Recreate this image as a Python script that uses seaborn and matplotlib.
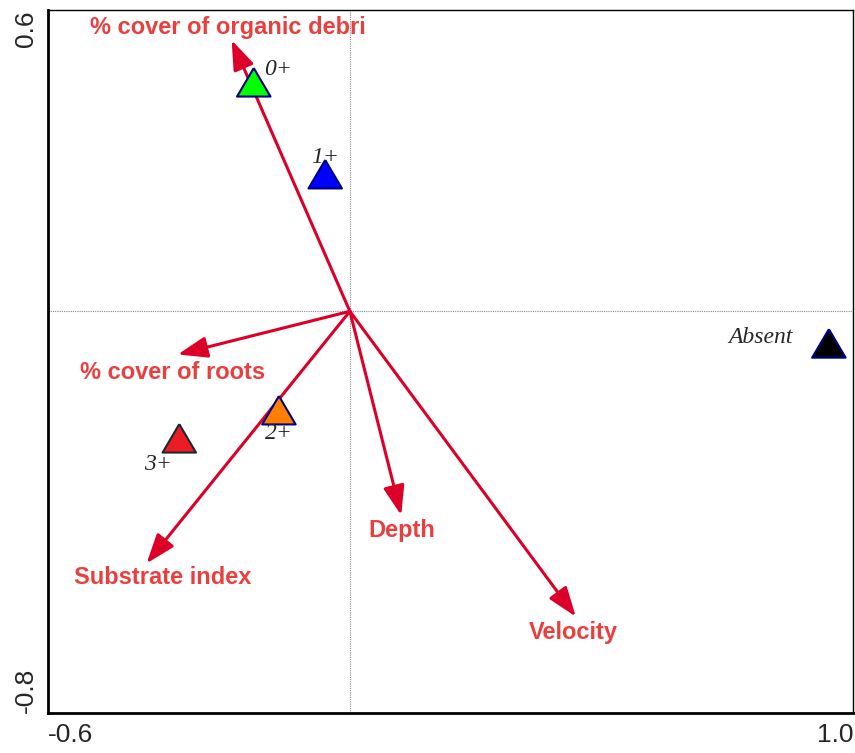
import pandas as pd
import numpy as np
import matplotlib
matplotlib.use("Agg")
import matplotlib.pyplot as plt
import seaborn as sns

# environmental variable arrows (end points)
env_names = ['% cover of organic debri', '% cover of roots', 'Substrate index', 'Depth', 'Velocity']
env_x = [-0.235, -0.342, -0.404, 0.102, 0.449]
env_y = [0.54, -0.086, -0.502, -0.406, -0.608]

# species / age-class centroids
cls_names = ['0+', '1+', '2+', '3+', 'Absent']
cls_x = [-0.191, -0.049, -0.141, -0.339, 0.952]
cls_y = [0.456, 0.273, -0.197, -0.253, -0.064]
cls_colors = ['#00ff00', '#0000ff', '#ff8000', '#ed1c24', '#000000']
cls_edges = ['#000080', '#000080', '#000080', '#1a2a30', '#000080']

df = pd.DataFrame({'cls': cls_names, 'x': cls_x, 'y': cls_y})

sns.set_style("white")
plt.rcParams['font.family'] = ['Liberation Sans', 'DejaVu Sans']

fig = plt.figure(figsize=(8.55, 7.53), dpi=100)
ax = fig.add_axes([0.0561, 0.0531, 0.9416, 0.9336])

ax.axhline(0, color='#888888', lw=0.8, ls=(0, (1, 1)), zorder=0)
ax.axvline(0, color='#888888', lw=0.8, ls=(0, (1, 1)), zorder=0)

arrow_col = '#dc0028'
lab_col = '#e8403f'
for n, x, y in zip(env_names, env_x, env_y):
    ax.annotate('', xy=(x, y), xytext=(0, 0),
                arrowprops=dict(arrowstyle='-|>,head_length=1.8,head_width=0.65',
                                color=arrow_col, lw=2.2, shrinkA=0, shrinkB=0))

# label anchors (left edge, vertical centre)
lab_pos = {
    '% cover of organic debri': (-0.517, 0.566),
    '% cover of roots': (-0.537, -0.122),
    'Substrate index': (-0.549, -0.530),
    'Depth': (0.036, -0.436),
    'Velocity': (0.356, -0.639),
}
for n in env_names:
    lx, ly = lab_pos[n]
    ax.text(lx, ly, n, color=lab_col, fontsize=17, fontweight='bold',
            ha='left', va='center')

# slightly flattened triangle, like the original
tri = [(0, 0.85), (-1, -0.85), (1, -0.85), (0, 0.85)]
sns.scatterplot(data=df, x='x', y='y', hue='cls', palette=cls_colors,
                marker=tri, s=580, edgecolor=cls_edges, linewidth=1.5,
                legend=False, zorder=3, ax=ax)

cls_lab = {
    '0+': (-0.171, 0.482, 'left'),
    '1+': (-0.076, 0.307, 'left'),
    '2+': (-0.169, -0.243, 'left'),
    '3+': (-0.410, -0.305, 'left'),
    'Absent': (0.881, -0.052, 'right'),
}
for n in cls_names:
    lx, ly, ha = cls_lab[n]
    ax.text(lx, ly, n, fontsize=17, style='italic', family='Liberation Serif',
            ha=ha, va='center')

ax.set_xlim(-0.6, 1.0)
ax.set_ylim(-0.8, 0.6)
ax.set_xticks(np.arange(-0.6, 1.01, 0.2))
ax.set_yticks(np.arange(-0.8, 0.61, 0.2))
xl = ['' for _ in ax.get_xticks()]
xl[0], xl[-1] = '-0.6', '1.0'
yl = ['' for _ in ax.get_yticks()]
yl[0], yl[-1] = '-0.8', '0.6'
ax.set_xticklabels(xl, fontsize=19)
ax.set_yticklabels(yl, fontsize=19, rotation=90)
xt = ax.get_xticklabels()
xt[0].set_ha('left')
xt[-1].set_ha('right')
yt = ax.get_yticklabels()
yt[0].set_va('bottom')
yt[-1].set_va('top')
ax.tick_params(direction='inout', length=8, width=1.5, color='black', pad=3)
for s in ax.spines.values():
    s.set_color('black')
ax.spines['left'].set_linewidth(2)
ax.spines['bottom'].set_linewidth(2)
ax.spines['top'].set_linewidth(1)
ax.spines['right'].set_linewidth(1)
ax.set_xlabel('')
ax.set_ylabel('')

fig.savefig('out.png', dpi=100)
